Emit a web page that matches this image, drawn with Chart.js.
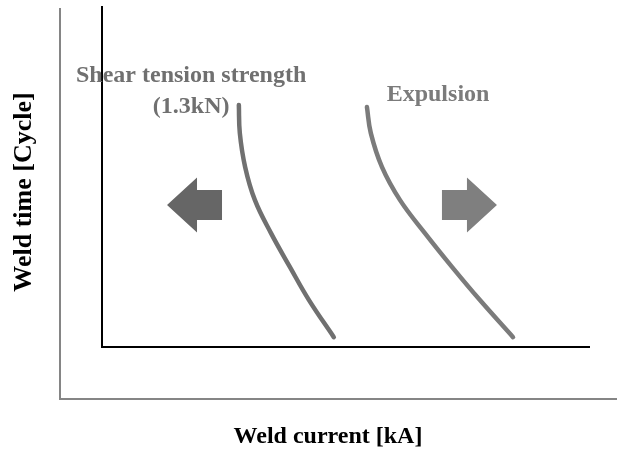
<!DOCTYPE html>
<html>
<head>
<meta charset="utf-8">
<script src="https://cdn.jsdelivr.net/npm/chart.js@4.4.1/dist/chart.umd.min.js"></script>
<style>
  html, body { margin: 0; padding: 0; background: #fff; }
  #canvasBox { width: 629px; height: 456px; }
</style>
</head>
<body>
<div id="canvasBox">
  <canvas id="myChart" width="629" height="456"></canvas>
</div>
<script>
// schematic weld lobe, arbitrary units (0..10 on both axes)
const strengthCurrent = [2.81, 2.83, 2.94, 3.14, 3.47, 3.86, 4.25, 4.76];
const strengthTime = [7.12, 6.29, 5.29, 4.32, 3.35, 2.35, 1.38, 0.29];
const expulsionCurrent = [5.44, 5.52, 5.75, 6.12, 6.63, 7.19, 7.76, 8.44];
const expulsionTime = [7.06, 6.29, 5.29, 4.32, 3.35, 2.35, 1.38, 0.29];
const seriesNames = ['Shear tension strength (1.3kN)', 'Expulsion'];

const serif = '"Liberation Serif", "Times New Roman", serif';

// curve captions, placed in data units
const captions = [
  {lines: ['Shear tension strength', '(1.3kN)'], x: 1.83, y: [7.79, 6.88], color: '#707070'},
  {lines: ['Expulsion'], x: 6.90, y: [7.24], color: '#7b7b7b'}
];

// block arrows, tip position in data units
const arrows = [
  {tipX: 1.335, y: 4.18, dir: -1, color: '#666666'},
  {tipX: 8.11, y: 4.18, dir: 1, color: '#7f7f7f'}
];

function toPoints(xs, ys) {
  return xs.map((v, i) => ({x: v, y: ys[i]}));
}

function drawArrow(ctx, tip, cy, dir, color) {
  const headLen = 30, headH = 55, shaftLen = 25, shaftH = 30;
  const base = tip - dir * headLen;
  const end = base - dir * shaftLen;
  ctx.fillStyle = color;
  ctx.beginPath();
  ctx.moveTo(tip, cy);
  ctx.lineTo(base, cy - headH / 2);
  ctx.lineTo(base, cy - shaftH / 2);
  ctx.lineTo(end, cy - shaftH / 2);
  ctx.lineTo(end, cy + shaftH / 2);
  ctx.lineTo(base, cy + shaftH / 2);
  ctx.lineTo(base, cy + headH / 2);
  ctx.closePath();
  ctx.fill();
}

const decorations = {
  id: 'decorations',
  beforeDraw(chart) {
    const ctx = chart.ctx;
    ctx.save();
    // outer grey frame of the original plot
    ctx.strokeStyle = '#858585';
    ctx.lineWidth = 2;
    ctx.beginPath();
    ctx.moveTo(60, 8);
    ctx.lineTo(60, 399);
    ctx.lineTo(617, 399);
    ctx.stroke();
    ctx.restore();
  },
  afterDraw(chart) {
    const {ctx, scales: {x, y}} = chart;
    ctx.save();

    arrows.forEach(a => {
      drawArrow(ctx, x.getPixelForValue(a.tipX), y.getPixelForValue(a.y), a.dir, a.color);
    });

    ctx.font = 'bold 24px ' + serif;
    ctx.textAlign = 'center';
    ctx.textBaseline = 'alphabetic';
    captions.forEach(c => {
      ctx.fillStyle = c.color;
      c.lines.forEach((t, i) => {
        ctx.fillText(t, x.getPixelForValue(c.x), y.getPixelForValue(c.y[i]));
      });
    });

    // axis titles
    ctx.fillStyle = '#000';
    ctx.font = 'bold 24px ' + serif;
    ctx.fillText('Weld current [kA]', 328, 443);
    ctx.translate(24, 192);
    ctx.rotate(-Math.PI / 2);
    ctx.textBaseline = 'middle';
    ctx.font = 'bold 26px ' + serif;
    ctx.fillText('Weld time [Cycle]', 0, 0);
    ctx.restore();
  }
};

const ctx = document.getElementById('myChart');

new Chart(ctx, {
  type: 'scatter',
  data: {
    datasets: [
      {
        label: seriesNames[0],
        data: toPoints(strengthCurrent, strengthTime),
        showLine: true,
        borderColor: '#707070',
        borderWidth: 4.5,
        borderCapStyle: 'round',
        pointRadius: 0,
        tension: 0.4
      },
      {
        label: seriesNames[1],
        data: toPoints(expulsionCurrent, expulsionTime),
        showLine: true,
        borderColor: '#7b7b7b',
        borderWidth: 4.5,
        borderCapStyle: 'round',
        pointRadius: 0,
        tension: 0.4
      }
    ]
  },
  options: {
    responsive: false,
    animation: false,
    devicePixelRatio: 1,
    layout: {padding: {left: 102, right: 40, top: 7, bottom: 109}},
    plugins: {
      legend: {display: false},
      tooltip: {enabled: false}
    },
    scales: {
      x: {
        type: 'linear',
        min: 0,
        max: 10,
        grid: {display: false, drawTicks: false},
        ticks: {display: false},
        border: {display: true, color: '#000', width: 2}
      },
      y: {
        type: 'linear',
        min: 0,
        max: 10,
        grid: {display: false, drawTicks: false},
        ticks: {display: false},
        border: {display: true, color: '#000', width: 2}
      }
    }
  },
  plugins: [decorations]
});
</script>
</body>
</html>
